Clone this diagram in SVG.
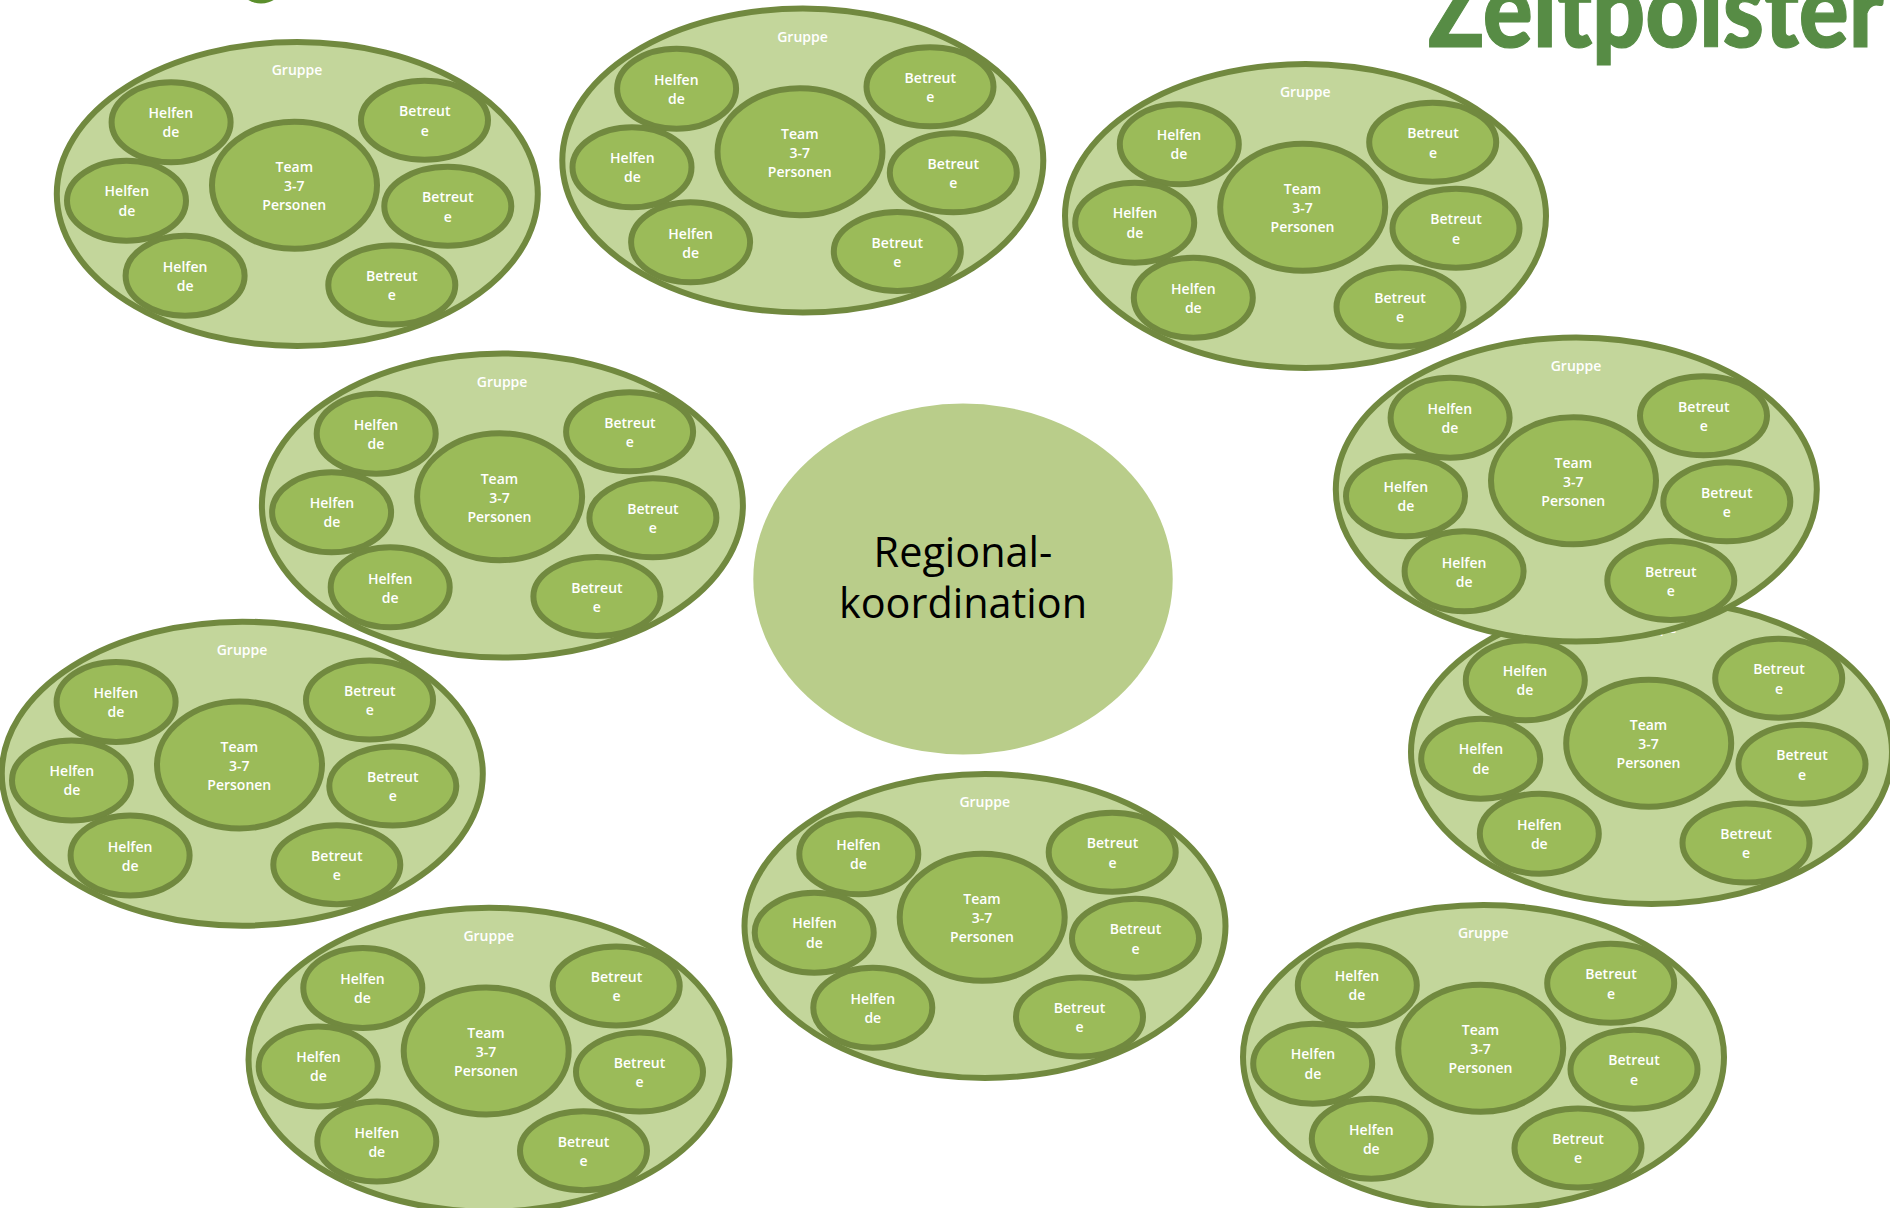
<svg xmlns="http://www.w3.org/2000/svg" width="1890" height="1208" viewBox="0 0 1890 1208">
<style>
text{font-family:"Open Sans","Liberation Sans",sans-serif}
.o{fill:#c3d69b;stroke:#71893f;stroke-width:6}
.i{fill:#9bbb59;stroke:#71893f;stroke-width:6}
.t{fill:#fff;font-size:14px;font-weight:600;text-anchor:middle}
.c{fill:#000;font-size:41.4px;text-anchor:middle}
</style>
<defs>
<g id="cluster">
<ellipse class="o" cx="0" cy="0" rx="240.5" ry="152"/>
<ellipse class="i" cx="-126.2" cy="-71.8" rx="59.5" ry="40"/>
<ellipse class="i" cx="-170.8" cy="6.7" rx="59.5" ry="40"/>
<ellipse class="i" cx="-112.2" cy="81.7" rx="59.5" ry="40"/>
<ellipse class="i" cx="-2.8" cy="-8.7" rx="82.5" ry="63.5"/>
<ellipse class="i" cx="127.2" cy="-73.7" rx="63.5" ry="39.5"/>
<ellipse class="i" cx="150.5" cy="12.3" rx="63.5" ry="39.5"/>
<ellipse class="i" cx="94.5" cy="91" rx="63.5" ry="39.5"/>
</g>
<g id="labels">
<text class="t" x="-0.3" y="-119">Gruppe</text>
<text class="t" x="-126.5" y="-75.7">Helfen</text><text class="t" x="-126.5" y="-56.7">de</text>
<text class="t" x="-170.5" y="2">Helfen</text><text class="t" x="-170.5" y="21.6">de</text>
<text class="t" x="-112.2" y="78">Helfen</text><text class="t" x="-112.2" y="97">de</text>
<text class="t" x="-3" y="-21.7">Team</text><text class="t" x="-3" y="-2.7">3-7</text><text class="t" x="-3" y="16.3">Personen</text>
<text class="t" x="127.5" y="-77.7">Betreut</text><text class="t" x="127.5" y="-58.3">e</text>
<text class="t" x="150.5" y="8.3">Betreut</text><text class="t" x="150.5" y="27.7">e</text>
<text class="t" x="94.5" y="87">Betreut</text><text class="t" x="94.5" y="106.4">e</text>
</g>
</defs>
<rect width="1890" height="1208" fill="#fff"/>
<ellipse cx="261" cy="-12" rx="20" ry="15.5" fill="#5b8f2c"/>
<text x="1428" y="47" font-size="106" font-weight="900" fill="#578c45" stroke="#578c45" stroke-width="1.2" style="font-family:Lato,'Open Sans',sans-serif" textLength="456" lengthAdjust="spacingAndGlyphs">Zeitpolster</text>
<g id="group-1" transform="translate(297.3 194)"><use href="#cluster"/><use href="#labels"/></g>
<g id="group-2" transform="translate(802.8 160.5)"><use href="#cluster"/><use href="#labels"/></g>
<g id="group-3" transform="translate(1305.5 216)"><use href="#cluster"/><use href="#labels"/></g>
<g id="group-4" transform="translate(502.4 505.5)"><use href="#cluster"/><use href="#labels"/></g>
<g id="group-6" transform="translate(1651.5 752)"><use href="#cluster"/><use href="#labels"/></g>
<g id="group-5" transform="translate(1576.3 489.5)"><use href="#cluster"/><use href="#labels"/></g>
<g id="group-7" transform="translate(242.3 773.7)"><use href="#cluster"/><use href="#labels"/></g>
<g id="group-8" transform="translate(985 926)"><use href="#cluster"/><use href="#labels"/></g>
<g id="group-9" transform="translate(489 1059.7)"><use href="#cluster"/><use href="#labels"/></g>
<g id="group-10" transform="translate(1483.5 1057)"><use href="#cluster"/><use href="#labels"/></g>
<g id="regionalkoordination">
<ellipse cx="963" cy="579" rx="209.7" ry="175.4" fill="#b9cd8a"/>
<text class="c" x="963" y="567">Regional-</text>
<text class="c" x="963" y="618">koordination</text>
</g>
<g id="connectors"/>
</svg>
